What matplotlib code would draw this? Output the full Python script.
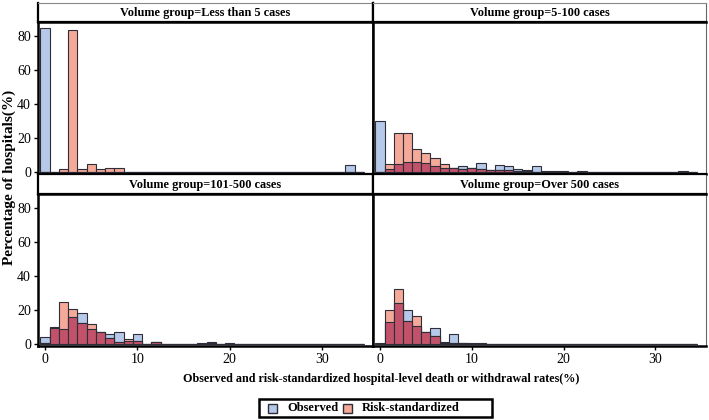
import numpy as np
import matplotlib
matplotlib.use("Agg")
import matplotlib.pyplot as plt
from matplotlib.patches import Rectangle

# ---------------- data (percentage of hospitals per 1% bin) ----------------
bins = list(range(0, 35))

def series(d):
    return [d.get(b, 0.0) for b in bins]

groups = ["Volume group=Less than 5 cases", "Volume group=5-100 cases",
          "Volume group=101-500 cases", "Volume group=Over 500 cases"]

obs_lt5 = series({0: 85, 33: 4.1})
rs_lt5 = series({2: 1.8, 3: 84, 4: 1.8, 5: 4.8, 6: 1.8, 7: 2.3, 8: 2.3,
                 11: 0.3, 14: 0.3, 25: 0.3})

obs_5_100 = series({0: 30.5, 1: 2.0, 2: 4.7, 3: 6.3, 4: 5.9, 5: 5.3, 6: 3.9,
                    7: 2.4, 8: 2.4, 9: 3.9, 10: 2.5, 11: 5.6, 12: 1.5, 13: 4.4,
                    14: 3.8, 15: 2.2, 16: 1.2, 17: 3.5, 18: 0.5, 19: 0.5,
                    20: 1.0, 22: 0.7, 29: 0.4, 33: 0.8})
rs_5_100 = series({1: 5.0, 2: 23.0, 3: 23.0, 4: 13.6, 5: 11.3, 6: 8.3, 7: 4.9,
                   8: 2.6, 9: 2.0, 10: 2.4, 11: 2.0, 12: 1.6, 13: 1.4, 14: 1.3,
                   15: 0.8, 16: 0.8, 17: 0.3, 18: 0.3})

obs_101_500 = series({0: 4.1, 1: 10.0, 2: 8.8, 3: 16.2, 4: 18.6, 5: 8.8, 6: 7.0,
                      7: 6.3, 8: 7.4, 9: 1.8, 10: 6.2, 12: 1.5, 14: 0.4,
                      15: 0.4, 17: 0.5, 18: 1.2, 20: 0.5})
rs_101_500 = series({0: 0.8, 1: 9.5, 2: 25.0, 3: 21.0, 4: 12.7, 5: 12.0, 6: 7.0,
                     7: 3.5, 8: 1.5, 9: 2.9, 10: 2.2, 12: 1.3, 14: 0.4,
                     15: 0.4, 17: 0.3, 18: 0.5, 20: 0.4})

obs_gt500 = series({0: 0.5, 1: 13.0, 2: 24.3, 3: 20.4, 4: 10.8, 5: 7.3, 6: 9.8,
                    7: 1.5, 8: 6.3, 9: 0.5, 10: 0.5, 11: 0.5})
rs_gt500 = series({1: 20.4, 2: 32.8, 3: 14.0, 4: 16.9, 5: 7.3, 6: 4.7, 7: 0.5,
                   8: 1.0, 9: 0.5, 10: 0.3, 11: 0.3})

observed = [obs_lt5, obs_5_100, obs_101_500, obs_gt500]
riskstd = [rs_lt5, rs_5_100, rs_101_500, rs_gt500]

xticks = [0, 10, 20, 30]
yticks = [0, 20, 40, 60, 80]
xlabel = "Observed and risk-standardized hospital-level death or withdrawal rates(%)"
ylabel = "Percentage of hospitals(%)"
legend_labels = ["Observed", "Risk-standardized"]

# ---------------- style ----------------
BLUE = "#b7c9e8"
RED = "#f4a999"
OVER = "#c2526a"
EDGE = "#2e2e3a"
SERIF = "Liberation Serif"

W, H = 709, 420
fig = plt.figure(figsize=(W / 100, H / 100), dpi=100)

def fx(px):
    return px / W

def fy(py):
    return 1 - py / H

x_cols = [(38, 373), (373, 706)]
rows = [(3, 22, 174), (174, 194, 346)]  # strip top, plot top, plot bottom

for i in range(4):
    r, c = divmod(i, 2)
    x0, x1 = x_cols[c]
    st, pt, pb = rows[r]
    # strip
    sax = fig.add_axes([fx(x0), fy(pt), fx(x1) - fx(x0), fy(st) - fy(pt)])
    sax.set_xticks([]); sax.set_yticks([])
    for s in sax.spines.values():
        s.set_linewidth(1.6)
    if r == 0:
        sax.spines["top"].set_linewidth(0.8)
        sax.spines["top"].set_color("#888888")
    if c == 1:
        sax.spines["right"].set_linewidth(0.8)
        sax.spines["right"].set_color("#666666")
    sax.text(0.5, 0.45, groups[i], ha="center", va="center",
             fontfamily=SERIF, fontweight="bold", fontsize=8.8,
             transform=sax.transAxes)
    # plot
    ax = fig.add_axes([fx(x0), fy(pb), fx(x1) - fx(x0), fy(pt) - fy(pb)])
    o = np.array(observed[i]); rr = np.array(riskstd[i])
    ov = np.minimum(o, rr)
    ax.bar(bins, o, width=1.0, color=BLUE, edgecolor=EDGE, linewidth=0.8, zorder=2)
    ax.bar(bins, rr, width=1.0, color=RED, edgecolor=EDGE, linewidth=0.8, zorder=3)
    ax.bar(bins, ov, width=1.0, color=OVER, edgecolor=EDGE, linewidth=0.8, zorder=4)
    ax.set_xlim(-0.76, 35.5)
    ax.set_ylim(-1.0, 88.5)
    for s in ax.spines.values():
        s.set_linewidth(1.8)
        s.set_zorder(6)
    if c == 1:
        ax.spines["right"].set_linewidth(0.8)
        ax.spines["right"].set_color("#666666")
    ax.tick_params(direction="out", length=3, width=1, pad=2)
    ax.set_yticks(yticks)
    ax.set_xticks(xticks)
    if c == 0:
        ax.set_yticklabels([str(v) for v in yticks], fontfamily=SERIF, fontsize=10)
    else:
        ax.tick_params(axis="y", left=False, labelleft=False)
    if r == 1:
        ax.set_xticklabels([str(v) for v in xticks], fontfamily=SERIF, fontsize=10)
    else:
        ax.tick_params(axis="x", bottom=False, labelbottom=False)

fig.text(fx(381), fy(379), xlabel, ha="center", va="center",
         fontfamily=SERIF, fontweight="bold", fontsize=8.7)
fig.text(fx(9), fy(177), ylabel, ha="center", va="center", rotation=90,
         fontfamily=SERIF, fontweight="bold", fontsize=11)

# ---------------- legend (drawn as a framed key) ----------------
fig.add_artist(Rectangle((fx(259), fy(417)), fx(492) - fx(259), fy(399) - fy(417),
                         transform=fig.transFigure, facecolor="white",
                         edgecolor="black", linewidth=1.8))
key_x = [268, 343]
text_x = [287, 362]
for kx, tx, col, lab in zip(key_x, text_x, [BLUE, RED], legend_labels):
    fig.add_artist(Rectangle((fx(kx), fy(412.5)), fx(9), fy(403.5) - fy(412.5),
                             transform=fig.transFigure, facecolor=col,
                             edgecolor=EDGE, linewidth=1.0))
    fig.text(fx(tx), fy(408), lab, ha="left", va="center",
             fontfamily=SERIF, fontweight="bold", fontsize=9)

fig.savefig("out.png", dpi=100)
